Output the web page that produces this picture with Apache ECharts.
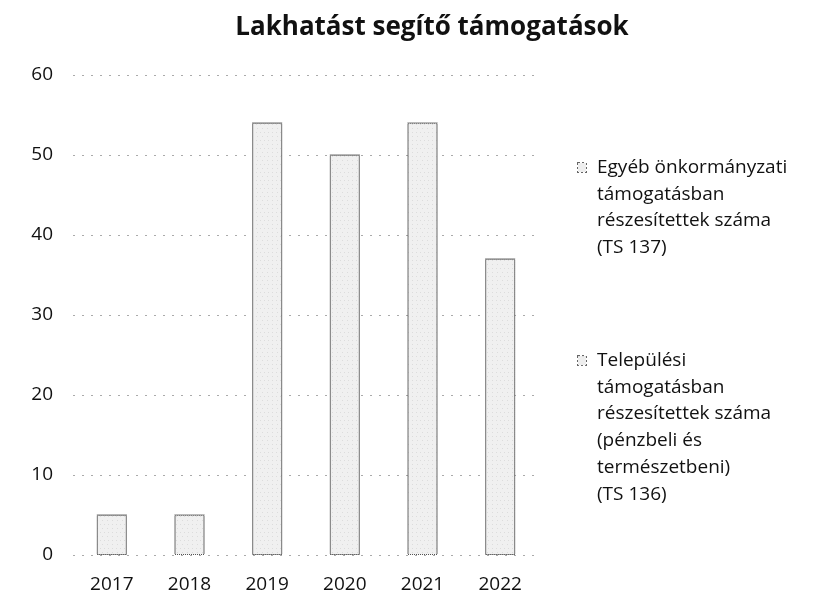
<!DOCTYPE html>
<html>
<head>
<meta charset="utf-8">
<script src="https://cdn.jsdelivr.net/npm/echarts@6/dist/echarts.min.js"></script>
<style>
  html, body { margin: 0; padding: 0; background: #fff; }
  #main { width: 815px; height: 614px; }
</style>
</head>
<body>
<div id="main"></div>
<script>
// adatok
var evek = ['2017', '2018', '2019', '2020', '2021', '2022'];
var telepulesi = [5, 5, 54, 50, 54, 37];   // TS 136
var egyeb = [0, 0, 0, 0, 0, 0];            // TS 137
var nevEgyeb = 'Egyéb önkormányzati támogatásban részesítettek száma (TS 137)';
var nevTelepulesi = 'Települési támogatásban részesítettek száma (pénzbeli és természetbeni) (TS 136)';
var sorokEgyeb = ['Egyéb önkormányzati', 'támogatásban', 'részesítettek száma', '(TS 137)'];
var sorokTelepulesi = ['Települési', 'támogatásban', 'részesítettek száma', '(pénzbeli és', 'természetbeni)', '(TS 136)'];

var betu = '"Open Sans", "DejaVu Sans", sans-serif';

var myChart = echarts.init(document.getElementById('main'));

var minta = {
  symbol: 'rect',
  symbolSize: 0.5,
  color: 'rgba(110,110,110,0.6)',
  dashArrayX: [[1, 3], [0, 2, 1, 2]],
  dashArrayY: [1, 3],
  rotation: 0
};

function legendSzoveg(sorok) {
  var res = '{box|}{t|' + sorok[0] + '}';
  for (var i = 1; i < sorok.length; i++) {
    res += '\n{pad|}{t|' + sorok[i] + '}';
  }
  return res;
}

option = {
  title: {
    text: 'Lakhatást segítő támogatások',
    left: 427,
    top: 10,
    textAlign: 'center',
    textStyle: { fontFamily: betu, fontSize: 26, fontWeight: 'bold', color: '#111' }
  },
  legend: {
    orient: 'vertical',
    left: 568,
    top: 153,
    itemGap: 94,
    icon: 'none',
    itemWidth: 0,
    itemHeight: 0,
    selectedMode: false,
    data: [nevEgyeb, nevTelepulesi],
    formatter: function (name) {
      return legendSzoveg(name === nevEgyeb ? sorokEgyeb : sorokTelepulesi);
    },
    textStyle: {
      rich: {
        box: { width: 8, height: 9, borderColor: '#666', borderWidth: 1, borderType: 'dotted', backgroundColor: '#eee' },
        pad: { width: 8 },
        t: { fontFamily: betu, fontSize: 19, color: '#111', lineHeight: 26.7, padding: [0, 0, 0, 11] }
      }
    }
  },
  grid: { left: 73, right: 276, top: 75, bottom: 59 },
  xAxis: {
    type: 'category',
    data: evek,
    axisLine: { show: false },
    axisTick: { show: false },
    axisLabel: { fontFamily: betu, fontSize: 19, color: '#111', margin: 20 }
  },
  yAxis: {
    type: 'value',
    min: 0,
    max: 60,
    interval: 10,
    axisLine: { show: false },
    axisTick: { show: false },
    axisLabel: { fontFamily: betu, fontSize: 19, color: '#111', margin: 20 },
    splitLine: { lineStyle: { color: '#aaa', type: [2, 7], width: 1 } }
  },
  series: [
    {
      name: nevTelepulesi,
      type: 'bar',
      stack: 'ossz',
      barWidth: 30,
      data: telepulesi,
      itemStyle: {
        color: '#f0f0f0',
        borderColor: '#555',
        borderWidth: 1,
        borderType: 'dotted',
        decal: minta
      }
    },
    {
      name: nevEgyeb,
      type: 'bar',
      stack: 'ossz',
      barWidth: 30,
      data: egyeb,
      itemStyle: {
        color: '#f0f0f0',
        borderColor: '#999',
        borderWidth: 1,
        borderType: 'dotted',
        decal: minta
      }
    }
  ]
};

myChart.setOption(option);
</script>
</body>
</html>
